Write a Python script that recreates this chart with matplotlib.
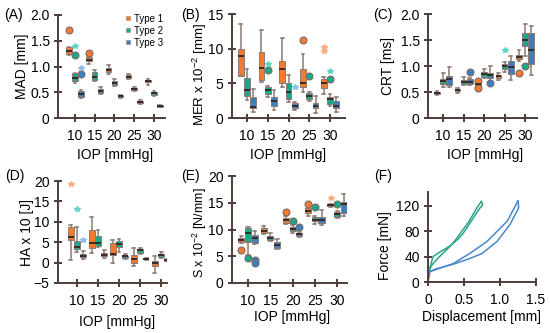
import numpy as np
import matplotlib.pyplot as plt
from matplotlib.lines import Line2D

plt.rcParams["font.family"] = ["Liberation Sans", "DejaVu Sans"]
plt.rcParams["font.size"] = 10
plt.rcParams["mathtext.fontset"] = "custom"
plt.rcParams["mathtext.rm"] = "Liberation Sans"
plt.rcParams["mathtext.it"] = "Liberation Sans:italic"

iop = [10, 15, 20, 25, 30]
type_names = ["Type 1", "Type 2", "Type 3"]
colors = ["#f47a30", "#17a98a", "#3c7fc0"]
star_colors = ["#f9ad80", "#5fd6c4", "#90bbe6"]
axis_color = "#4e3d39"
whisk_color = "#8c7a74"

# five-number summaries per IOP: (whislo, q1, median, q3, whishi)
mad_t1 = [(1.22, 1.24, 1.30, 1.37, 1.38), (1.05, 1.10, 1.13, 1.19, 1.21), (0.86, 0.89, 0.93, 0.98, 1.02),
          (0.75, 0.77, 0.80, 0.84, 0.86), (0.65, 0.69, 0.71, 0.73, 0.76)]
mad_t2 = [(0.67, 0.71, 0.77, 0.87, 0.88), (0.72, 0.74, 0.79, 0.90, 0.93), (0.62, 0.65, 0.68, 0.72, 0.75),
          (0.52, 0.55, 0.57, 0.59, 0.60), (0.42, 0.45, 0.48, 0.51, 0.52)]
mad_t3 = [(0.38, 0.40, 0.46, 0.53, 0.54), (0.47, 0.49, 0.53, 0.57, 0.60), (0.38, 0.40, 0.42, 0.44, 0.45),
          (0.28, 0.30, 0.31, 0.33, 0.34), (0.21, 0.22, 0.24, 0.25, 0.26)]
mad_circles = [[(10, 1.70), (15, 1.26)], [(10, 1.22)], [(10, 0.85)]]
mad_stars = [[], [(10, 1.40)], [(10, 0.98)]]

mer_t1 = [(6.0, 6.1, 8.9, 9.9, 13.6), (5.2, 5.5, 7.2, 9.5, 12.7), (4.5, 5.0, 7.0, 8.2, 11.6),
          (3.8, 4.5, 5.0, 7.0, 9.2), (3.4, 4.3, 5.1, 5.6, 5.9)]
mer_t2 = [(2.6, 3.2, 4.0, 5.8, 7.0), (3.1, 3.4, 4.1, 4.4, 4.6), (2.3, 2.8, 3.7, 5.1, 6.2),
          (2.4, 2.8, 3.2, 3.6, 3.7), (1.8, 2.0, 2.8, 3.1, 3.4)]
mer_t3 = [(0.8, 1.4, 1.6, 3.0, 4.2), (1.2, 1.7, 2.5, 3.1, 4.1), (1.2, 1.4, 1.8, 2.1, 2.3),
          (0.7, 1.4, 1.8, 2.1, 3.2), (0.8, 1.4, 1.8, 2.5, 3.1)]
mer_circles = [[(25, 11.2)], [(15, 6.9), (25, 6.1), (30, 5.6)], []]
mer_stars = [[(30, 10.3), (30, 9.6)], [(15, 7.8), (30, 6.8)], [(20, 4.4)]]

crt_t1 = [(0.45, 0.46, 0.48, 0.50, 0.51), (0.49, 0.51, 0.54, 0.56, 0.58), (0.61, 0.62, 0.65, 0.67, 0.69),
          (0.73, 0.76, 0.80, 0.83, 0.86), (1.10, 1.13, 1.17, 1.21, 1.30)]
crt_t2 = [(0.60, 0.65, 0.71, 0.75, 0.86), (0.63, 0.66, 0.69, 0.73, 0.78), (0.76, 0.79, 0.85, 0.89, 0.94),
          (0.88, 0.94, 1.00, 1.04, 1.08), (1.20, 1.38, 1.50, 1.64, 1.80)]
crt_t3 = [(0.60, 0.63, 0.75, 0.80, 0.98), (0.63, 0.65, 0.70, 0.75, 0.77), (0.72, 0.77, 0.83, 0.87, 1.00),
          (0.73, 0.85, 0.98, 1.09, 1.20), (0.82, 1.04, 1.30, 1.64, 1.76)]
crt_circles = [[(20, 0.72), (20, 0.58), (30, 0.86)], [(30, 1.00)], [(15, 0.88), (20, 0.68)]]
crt_stars = [[], [(25, 1.30)], []]

ha_t1 = [(0.7, 5.5, 6.2, 8.8, 9.2), (2.3, 3.5, 4.9, 8.0, 11.2), (-0.1, 1.9, 2.1, 4.9, 5.6),
         (-0.8, -0.1, 0.8, 1.9, 3.5), (-2.6, -0.8, -0.1, 0.3, 1.5)]
ha_t2 = [(2.5, 3.3, 3.9, 5.4, 8.8), (3.8, 4.1, 4.7, 6.5, 8.1), (2.5, 3.8, 4.6, 5.3, 5.7),
         (2.1, 2.3, 3.0, 3.3, 3.5), (1.2, 1.4, 1.8, 2.1, 2.7)]
ha_t3 = [(0.9, 1.3, 1.7, 2.1, 2.9), (1.1, 1.5, 1.9, 2.3, 3.1), (1.0, 1.2, 1.5, 1.7, 2.0),
         (0.6, 0.8, 0.9, 1.0, 1.1), (0.4, 0.5, 0.6, 0.7, 0.8)]
ha_circles = [[], [], []]
ha_stars = [[(10, 19.2)], [(10, 13.2)], [(10, 5.5)]]

s_t1 = [(7.4, 7.6, 8.0, 8.5, 8.8), (9.2, 9.3, 9.8, 10.2, 10.6), (11.1, 11.2, 11.7, 12.1, 12.6),
        (12.6, 13.1, 13.5, 14.0, 14.3), (14.2, 14.3, 14.5, 14.6, 14.8)]
s_t2 = [(5.2, 7.7, 9.4, 10.2, 10.4), (7.9, 8.0, 8.5, 8.8, 9.3), (9.4, 9.8, 10.1, 10.4, 10.8),
        (11.1, 11.5, 11.8, 12.3, 12.6), (12.1, 12.3, 12.9, 13.2, 13.4)]
s_t3 = [(7.3, 7.4, 8.4, 9.0, 9.8), (6.3, 6.5, 7.1, 7.7, 8.2), (8.6, 8.7, 9.1, 9.4, 9.6),
        (10.9, 11.2, 11.8, 12.3, 13.6), (12.6, 13.1, 14.8, 15.1, 16.7)]
s_circles = [[(10, 6.2), (20, 13.2), (25, 14.8)], [(10, 4.7), (20, 11.5), (25, 14.2), (30, 14.8)],
             [(10, 4.3), (10, 3.8), (20, 10.4)]]
s_stars = [[(30, 15.8)], [], []]

# force-displacement loops (F)
green_a_x = [0, 0.005, 0.02, 0.07, 0.16, 0.25, 0.33, 0.40, 0.47, 0.56, 0.68, 0.74]
green_a_y = [0, 10, 20, 40, 47, 53, 59, 69, 80, 94, 117, 127]
green_b_x = [0.74, 0.76, 0.71, 0.60, 0.49, 0.42, 0.33, 0.25, 0.16, 0.07, 0.03, 0.01, 0]
green_b_y = [127, 122, 115, 96, 77, 68, 59, 50, 40, 29, 22, 12, 0]
blue_a_x = [0, 0.005, 0.02, 0.12, 0.35, 0.58, 0.82, 1.10, 1.25]
blue_a_y = [0, 10, 16, 20, 29, 45, 64, 96, 128]
blue_b_x = [1.25, 1.26, 1.14, 0.96, 0.75, 0.58, 0.35, 0.12, 0.03, 0]
blue_b_y = [128, 117, 91, 64, 45, 37, 28, 21, 17, 0]

W, H = 550, 333
fig = plt.figure(figsize=(W / 100, H / 100), dpi=100)


def px_axes(left, right, top, bottom):
    return fig.add_axes([left / W, 1 - bottom / H, (right - left) / W, (bottom - top) / H])


def style(ax):
    for side in ["top", "right"]:
        ax.spines[side].set_visible(False)
    for side in ["left", "bottom"]:
        ax.spines[side].set_color(axis_color)
        ax.spines[side].set_linewidth(1.4)
    ax.tick_params(direction="inout", length=6, width=1.4, color=axis_color, labelsize=10)
    ax.tick_params(axis="x", pad=5)
    ax.tick_params(axis="y", pad=3)


def draw_boxes(ax, data, circles, stars):
    offsets = [-1.5, 0, 1.5]
    for k in range(3):
        stats = []
        for j, v in enumerate(data[k]):
            fl = [y for x, y in circles[k] if x == iop[j]]
            stats.append(dict(whislo=v[0], q1=v[1], med=v[2], q3=v[3], whishi=v[4], fliers=fl))
        pos = [x + offsets[k] for x in iop]
        ax.bxp(stats, positions=pos, widths=1.4, patch_artist=True, manage_ticks=False,
               capwidths=0.7,
               boxprops=dict(facecolor=colors[k], edgecolor=whisk_color, linewidth=0.7),
               whiskerprops=dict(color=whisk_color, linewidth=1.1),
               capprops=dict(color=whisk_color, linewidth=1.1),
               medianprops=dict(color="#3a2a27", linewidth=1.4),
               flierprops=dict(marker="o", markersize=5, markerfacecolor=colors[k],
                               markeredgecolor="#7d6a63", markeredgewidth=0.8))
        for x, y in stars[k]:
            ax.plot(x + offsets[k], y, marker="*", markersize=4, color=star_colors[k], linestyle="none")


def finish(ax, ylim, yticks, ylabels, ylab, xlim, ylab_x, ylab_y=0.5, ylab_size=10):
    ax.set_xlim(*xlim)
    ax.set_ylim(*ylim)
    ax.set_xticks(iop)
    ax.set_yticks(yticks)
    ax.set_yticklabels(ylabels)
    ax.set_ylabel(ylab, fontsize=ylab_size)
    ax.yaxis.set_label_coords(ylab_x, ylab_y)
    ax.yaxis.label.set_verticalalignment("center")
    style(ax)


# (A)
axA = px_axes(58, 165, 15, 118)
draw_boxes(axA, [mad_t1, mad_t2, mad_t3], mad_circles, mad_stars)
finish(axA, (0, 2.0), [0, 0.5, 1.0, 1.5, 2.0], ["0", "0.5", "1.0", "1.5", "2.0"], "MAD [mm]",
       (5.7, 32.8), -0.336)
handles = [Line2D([], [], marker="s", linestyle="none", markersize=3.5, markerfacecolor=c,
                  markeredgecolor="#a09088", markeredgewidth=0.5) for c in colors]
axA.legend(handles, type_names, loc="upper right", bbox_to_anchor=(1.02, 1.05), frameon=False,
           fontsize=7, handletextpad=0.1, labelspacing=0.2, handlelength=1.0, borderaxespad=0)

# (B)
axB = px_axes(232, 345, 14, 118)
draw_boxes(axB, [mer_t1, mer_t2, mer_t3], mer_circles, mer_stars)
finish(axB, (0, 15), [0, 5, 10, 15], ["0", "5", "10", "15"], "MER x 10$^{-2}$ [mm]",
       (6.4, 33.6), -0.285, 0.42, 9.5)

# (C)
axC = px_axes(428, 537, 14, 118)
draw_boxes(axC, [crt_t1, crt_t2, crt_t3], crt_circles, crt_stars)
finish(axC, (0, 2.0), [0, 0.5, 1.0, 1.5, 2.0], ["0", "0.5", "1.0", "1.5", "2.0"], "CRT [ms]",
       (6.3, 32.9), -0.367)

# (D)
axD = px_axes(58, 167, 181, 283)
draw_boxes(axD, [ha_t1, ha_t2, ha_t3], ha_circles, ha_stars)
finish(axD, (-5, 20), [-5, 0, 5, 10, 15, 20], ["\u22125", "0", "5", "10", "15", "20"], "HA x 10 [J]",
       (5.5, 31.4), -0.284)

# (E)
axE = px_axes(232, 347, 176, 283)
draw_boxes(axE, [s_t1, s_t2, s_t3], s_circles, s_stars)
finish(axE, (0, 20), [0, 5, 10, 15, 20], ["0", "5", "10", "15", "20"], "S x 10$^{-2}$ [N/mm]",
       (6.4, 32.2), -0.28, 0.47, 9)

for ax, xc, yb in [(axA, 0.53, -0.36), (axB, 0.5, -0.356), (axC, 0.52, -0.356),
                   (axD, 0.54, -0.38), (axE, 0.52, -0.32)]:
    ax.set_xlabel("IOP [mmHg]")
    ax.xaxis.set_label_coords(xc, yb)
    ax.xaxis.label.set_verticalalignment("center")

# (F)
axF = px_axes(428, 536, 192, 282)
axF.plot(green_a_x, green_a_y, color="#2aa487", lw=1.1)
axF.plot(green_b_x, green_b_y, color="#2aa487", lw=1.1)
axF.plot(blue_a_x, blue_a_y, color="#4a87c9", lw=1.1)
axF.plot(blue_b_x, blue_b_y, color="#4a87c9", lw=1.1)
axF.set_xlim(0, 1.5)
axF.set_ylim(0, 142)
axF.set_xticks([0, 0.5, 1.0, 1.5])
axF.set_xticklabels(["0", "0.5", "1.0", "1.5"])
axF.set_yticks([0, 40, 80, 120])
axF.set_ylabel("Force [mN]")
axF.yaxis.set_label_coords(-0.398, 0.41)
axF.yaxis.label.set_verticalalignment("center")
axF.set_xlabel("Displacement [mm]")
axF.xaxis.set_label_coords(0.5, -0.39)
axF.xaxis.label.set_verticalalignment("center")
style(axF)

# panel letters
for lab, x, y in [("(A)", 13, 15), ("(B)", 190, 15), ("(C)", 383, 15),
                  ("(D)", 15, 176), ("(E)", 190, 176), ("(F)", 383, 176)]:
    fig.text(x / W, 1 - y / H, lab, ha="center", va="center", fontsize=10)

fig.savefig("out.png", dpi=100)
